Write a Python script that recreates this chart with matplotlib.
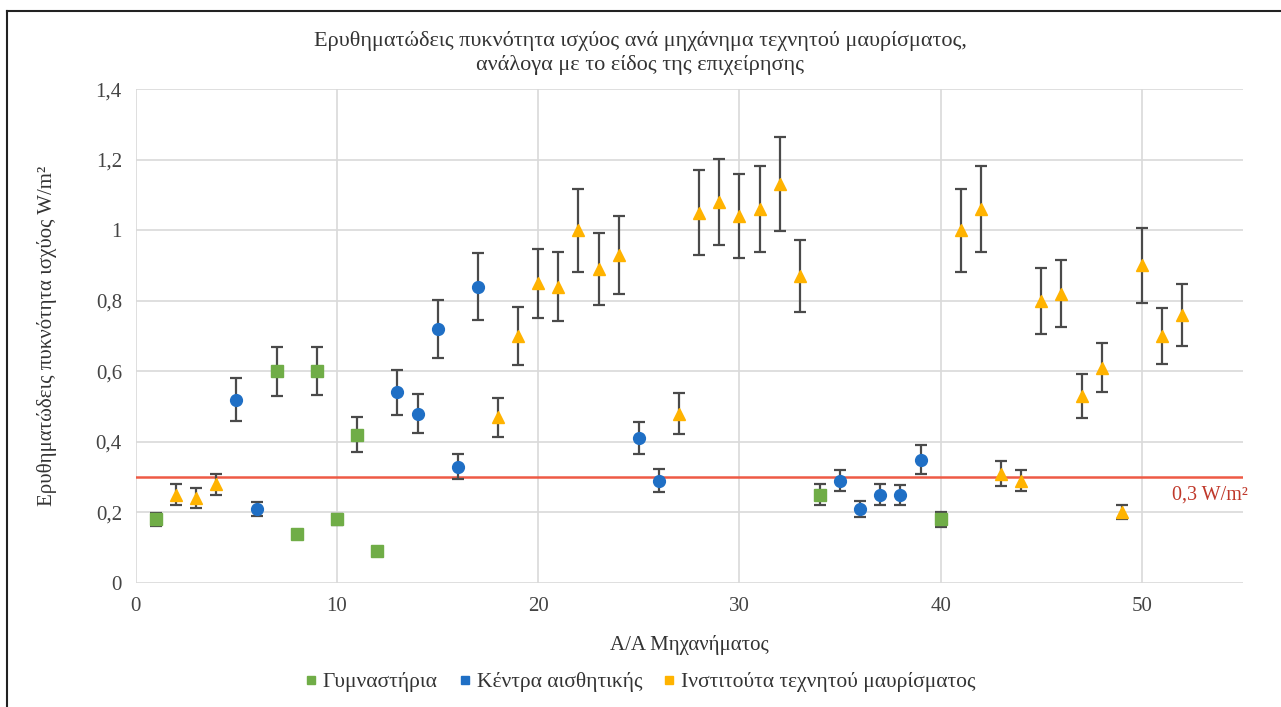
import matplotlib
matplotlib.use("Agg")
import matplotlib.pyplot as plt
from matplotlib.lines import Line2D
from matplotlib.ticker import FuncFormatter

plt.rcParams['font.family'] = ['Liberation Serif', 'DejaVu Serif']

# Γυμναστήρια
gym_x = [1, 7, 8, 9, 10, 11, 12, 34, 40]
gym_y = [0.18, 0.60, 0.14, 0.60, 0.18, 0.42, 0.09, 0.25, 0.18]
gym_err = [0.018, 0.07, 0.01, 0.068, 0.015, 0.05, 0.0, 0.03, 0.02]

# Κέντρα αισθητικής
beauty_x = [5, 6, 13, 14, 15, 16, 17, 25, 26, 35, 36, 37, 38, 39]
beauty_y = [0.52, 0.21, 0.54, 0.48, 0.72, 0.33, 0.84, 0.41, 0.29, 0.29, 0.21, 0.25, 0.25, 0.35]
beauty_err = [0.06, 0.02, 0.063, 0.055, 0.083, 0.035, 0.095, 0.045, 0.033, 0.03, 0.023, 0.03, 0.028, 0.04]

# Ινστιτούτα τεχνητού μαυρίσματος
tan_x = [2, 3, 4, 18, 19, 20, 21, 22, 23, 24, 27, 28, 29, 30, 31, 32, 33,
         41, 42, 43, 44, 45, 46, 47, 48, 49, 50, 51, 52]
tan_y = [0.25, 0.24, 0.28, 0.47, 0.70, 0.85, 0.84, 1.00, 0.89, 0.93, 0.48, 1.05, 1.08, 1.04, 1.06, 1.13, 0.87,
         1.00, 1.06, 0.31, 0.29, 0.80, 0.82, 0.53, 0.61, 0.20, 0.90, 0.70, 0.76]
tan_err = [0.03, 0.028, 0.03, 0.055, 0.083, 0.098, 0.098, 0.118, 0.103, 0.11, 0.058, 0.12, 0.123, 0.12, 0.123, 0.133, 0.103,
           0.118, 0.123, 0.035, 0.03, 0.093, 0.095, 0.063, 0.07, 0.02, 0.105, 0.08, 0.088]

limit = 0.3
labels = ['Γυμναστήρια', 'Κέντρα αισθητικής', 'Ινστιτούτα τεχνητού μαυρίσματος']
colors = ['#70AD47', '#1F6FC5', '#FFB300']
markers = ['s', 'o', '^']

fig = plt.figure(figsize=(12.81, 7.07), dpi=100)
ax = fig.add_axes([0.106, 0.1754, 0.864, 0.6986])

series = [(gym_x, gym_y, gym_err), (beauty_x, beauty_y, beauty_err), (tan_x, tan_y, tan_err)]
for (xs, ys, es), c, m in zip(series, colors, markers):
    ax.errorbar(xs, ys, yerr=es, fmt='none', ecolor='#4a4a4a', elinewidth=1.6,
                capsize=4, capthick=1.6, zorder=3)
    ax.plot(xs, ys, linestyle='none', marker=m, color=c, markersize=8.5, zorder=4)

ax.axhline(limit, color='#EE5A45', linewidth=1.8, zorder=2)
ax.text(51.5, 0.25, '0,3 W/m²', color='#C0392B', fontsize=14.5, va='center', ha='left')

ax.set_xlim(0, 55)
ax.set_ylim(0, 1.4)
ax.set_xticks(range(0, 51, 10))
ax.set_yticks([0, 0.2, 0.4, 0.6, 0.8, 1.0, 1.2, 1.4])
ax.yaxis.set_major_formatter(FuncFormatter(lambda v, p: ('%g' % round(v, 1)).replace('.', ',')))
ax.tick_params(length=0, labelsize=15, labelcolor='#444444', pad=10)
ax.grid(True, color='#d9d9d9', linewidth=1.2)
ax.set_axisbelow(True)
for s in ax.spines.values():
    s.set_visible(False)

ax.set_xlabel('Α/Α Μηχανήματος', fontsize=15, color='#333333', labelpad=14)
ax.set_ylabel('Ερυθηματώδεις πυκνότητα ισχύος W/m²', fontsize=15, color='#333333', labelpad=28)
fig.text(0.5, 0.925, 'Ερυθηματώδεις πυκνότητα ισχύος ανά μηχάνημα τεχνητού μαυρίσματος,\nανάλογα με το είδος της επιχείρησης',
         ha='center', va='center', fontsize=16, color='#333333', linespacing=1.25)

handles = [Line2D([], [], linestyle='none', marker='s', color=c, markersize=6) for c in colors]
fig.legend(handles, labels, loc='center', bbox_to_anchor=(0.5, 0.035), ncol=3, frameon=False,
           fontsize=15.5, handlelength=0.5, handletextpad=0.3, columnspacing=1.0, labelcolor='#333333')

# frame lines
fig.add_artist(Line2D([7 / 1281, 1.0], [1 - 11 / 707, 1 - 11 / 707], color='#222222', linewidth=1.5))
fig.add_artist(Line2D([7 / 1281, 7 / 1281], [0, 1 - 11 / 707], color='#222222', linewidth=1.5))

fig.savefig('out.png', dpi=100)
